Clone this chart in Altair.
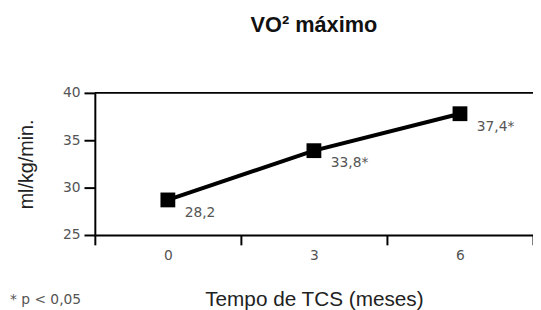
import altair as alt
import pandas as pd

# ---- data ----
months = ["0", "3", "6"]
vo2 = [28.7, 33.9, 37.8]
point_labels = ["28,2", "33,8*", "37,4*"]
y_ticks = [25, 30, 35, 40]
footnote = ["* p < 0,05"]

df = pd.DataFrame({"mes": months, "vo2": vo2, "label": point_labels})
note_df = pd.DataFrame({"t": footnote})

W, H = 444, 144
LABEL_FONT = "DejaVu Sans"
TITLE_FONT = "Liberation Sans"

x_enc = alt.X(
    "mes:O",
    scale=alt.Scale(type="band", domain=months, paddingInner=0, paddingOuter=0),
    bandPosition=0.5,
    axis=alt.Axis(
        title="Tempo de TCS (meses)",
        tickBand="extent",
        labelAngle=0,
        tickSize=10,
        labelPadding=4,
        titlePadding=26,
        titleFont=TITLE_FONT,
        titleFontSize=21,
        titleFontWeight="normal",
        titleColor="#222",
    ),
)
y_enc = alt.Y(
    "vo2:Q",
    scale=alt.Scale(domain=[25, 40], nice=False, zero=False),
    axis=alt.Axis(
        values=y_ticks,
        title="ml/kg/min.",
        tickSize=11,
        labelPadding=4,
        titlePadding=26,
        titleFont=TITLE_FONT,
        titleFontSize=20,
        titleFontWeight="normal",
        titleColor="#222",
    ),
)

base = alt.Chart(df)
line = base.mark_line(color="black", strokeWidth=4).encode(x=x_enc, y=y_enc)
pts = base.mark_square(color="black", size=225, opacity=1).encode(x=x_enc, y=y_enc)
txt = base.mark_text(
    align="left", baseline="middle", dx=17, dy=13,
    font=LABEL_FONT, fontSize=14, color="#555"
).encode(x=x_enc, y=y_enc, text="label:N")

top_line = alt.Chart(note_df).mark_rule(color="black", strokeWidth=2).encode(
    x=alt.value(0), x2=alt.value(W), y=alt.value(0)
)
note = alt.Chart(note_df).mark_text(
    align="left", baseline="middle", font=LABEL_FONT, fontSize=14, color="#555"
).encode(x=alt.value(-86), y=alt.value(210), text="t:N")

chart = (
    alt.layer(top_line, line, pts, txt, note)
    .properties(
        width=W,
        height=H,
        title=alt.TitleParams(
            "VO² máximo",
            font=TITLE_FONT,
            fontSize=22,
            fontWeight="bold",
            color="#111",
            anchor="middle",
            offset=50,
        ),
        autosize=alt.AutoSizeParams(type="none"),
        padding={"left": 88, "top": 84, "right": 0, "bottom": 74},
    )
    .configure_view(stroke=None)
    .configure_axis(
        domainColor="black",
        tickColor="black",
        domainWidth=2,
        tickWidth=2,
        grid=False,
        labelFont=LABEL_FONT,
        labelFontSize=14,
        labelColor="#555",
    )
)

chart.save("out.html", embed_options={"renderer": "svg", "actions": False})
